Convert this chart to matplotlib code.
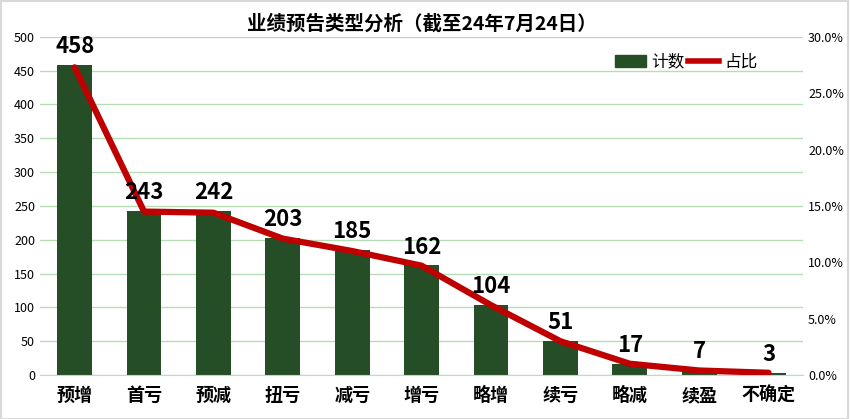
import matplotlib
matplotlib.use("Agg")
import matplotlib.pyplot as plt
from matplotlib.ticker import FuncFormatter
from matplotlib.lines import Line2D
from matplotlib.patches import Patch

plt.rcParams["font.family"] = ["Noto Sans CJK SC", "DejaVu Sans"]

categories = ["预增", "首亏", "预减", "扭亏", "减亏", "增亏", "略增", "续亏", "略减", "续盈", "不确定"]
counts = [458, 243, 242, 203, 185, 162, 104, 51, 17, 7, 3]
share_pct = [27.3, 14.5, 14.4, 12.1, 11.0, 9.7, 6.2, 3.0, 1.0, 0.4, 0.2]

bar_color = "#254E27"
line_color = "#C00000"
grid_color = "#B7DDB7"

fig = plt.figure(figsize=(8.5, 4.19), dpi=100)
ax = fig.add_axes([0.047, 0.105, 0.898, 0.807])
ax2 = ax.twinx()

x = list(range(len(categories)))
ax.bar(x, counts, width=0.5, color=bar_color, zorder=2)
ax2.plot(x, share_pct, color=line_color, linewidth=4.5, solid_capstyle="round", zorder=3)

# labels on top of the line, so draw them on ax2 using the count axis coords
for xi, c in zip(x, counts):
    ax2.annotate(str(c), (xi, c), xycoords=ax.transData, xytext=(0, 5),
                 textcoords="offset points", ha="center", va="bottom",
                 fontsize=16, fontweight="bold", color="black", zorder=5)

ax.set_xlim(-0.5, len(categories) - 0.5)
ax.set_ylim(0, 500)
ax.set_yticks(range(0, 501, 50))
ax2.set_ylim(0, 30)
ax2.set_yticks(range(0, 31, 5))
ax2.yaxis.set_major_formatter(FuncFormatter(lambda v, p: f"{v:.1f}%"))

ax.set_xticks(x)
ax.set_xticklabels(categories, fontsize=13, fontweight="bold")
ax.yaxis.grid(True, color=grid_color, linewidth=1, zorder=0)
ax.set_axisbelow(True)

for a in (ax, ax2):
    for s in ("top", "left", "right"):
        a.spines[s].set_visible(False)
    a.spines["bottom"].set_color("#D0D0D0")
    a.tick_params(length=0, labelsize=9)
ax.tick_params(axis="x", pad=8, labelsize=13)
ax2.spines["bottom"].set_visible(False)

ax.set_title("业绩预告类型分析（截至24年7月24日）", fontsize=14, fontweight="bold", pad=5)

handles = [Patch(color=bar_color), Line2D([0], [0], color=line_color, linewidth=4)]
ax2.legend(handles, ["计数", "占比"], loc="upper right", bbox_to_anchor=(0.96, 0.995),
           ncol=2, frameon=False, fontsize=12, handlelength=1.9, handletextpad=0.3,
           columnspacing=0.2)

fig.patches.append(plt.Rectangle((0.001, 0.001), 0.997, 0.997, transform=fig.transFigure,
                                 fill=False, edgecolor="#D9D9D9", linewidth=1.5))

fig.savefig("out.png", dpi=100)
